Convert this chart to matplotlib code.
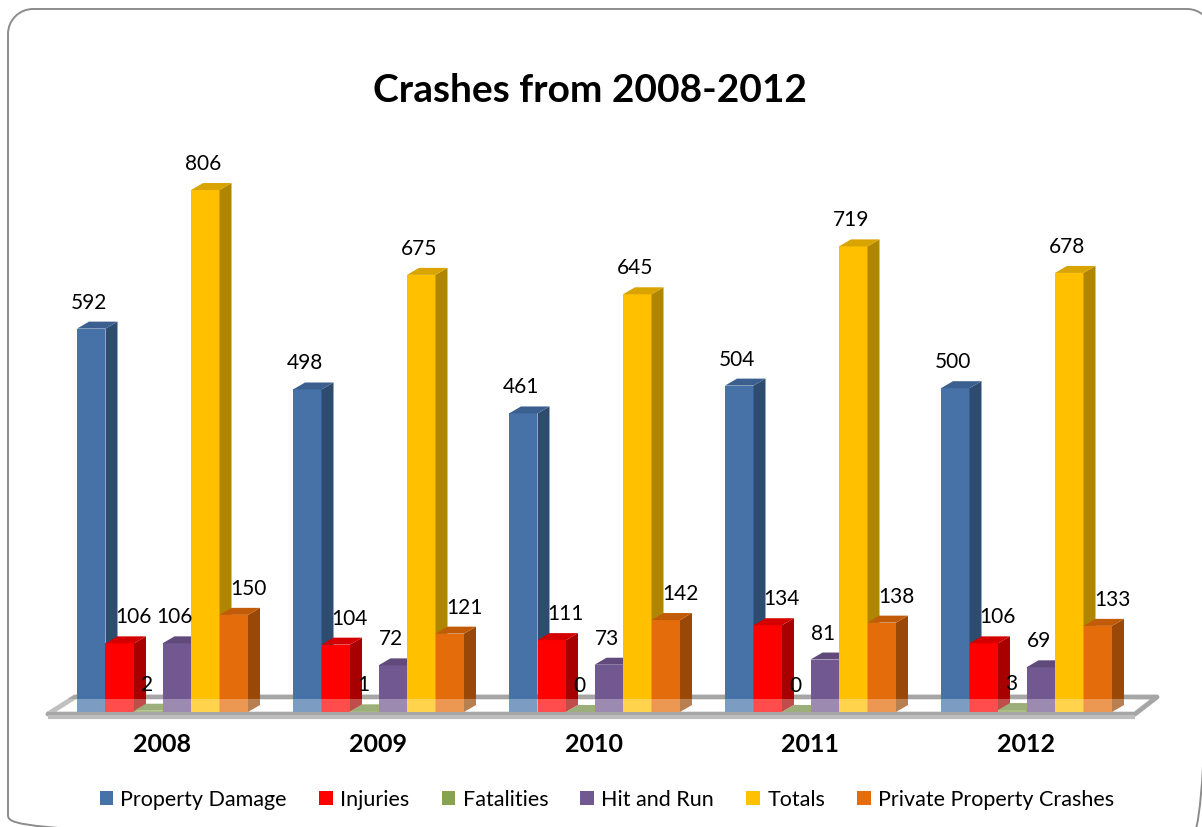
import matplotlib
matplotlib.use("Agg")
import matplotlib.pyplot as plt
from matplotlib.patches import Polygon, Patch, PathPatch
from matplotlib.path import Path
from matplotlib.transforms import Affine2D

# ---- data ----
years = ["2008", "2009", "2010", "2011", "2012"]
series_names = ["Property Damage", "Injuries", "Fatalities", "Hit and Run",
                "Totals", "Private Property Crashes"]
property_damage = [592, 498, 461, 504, 500]
injuries = [106, 104, 111, 134, 106]
fatalities = [2, 1, 0, 0, 3]
hit_and_run = [106, 72, 73, 81, 69]
totals = [806, 675, 645, 719, 678]
private_property = [150, 121, 142, 138, 133]
series_values = [property_damage, injuries, fatalities, hit_and_run,
                 totals, private_property]

# face colours: front, side (shadow), top
front_c = ["#4672A8", "#FF0000", "#87A34D", "#725890", "#FFC000", "#E46C0A"]
side_c = ["#2E4B70", "#A80000", "#5E7434", "#4E3D65", "#B08600", "#9A4807"]
top_c = ["#3B6090", "#D40000", "#728C40", "#5F4A7B", "#D9A300", "#C25B08"]
# horizontal nudge (pixels) of value labels per series
label_nudge = [-2, 14, -1, -2, -2, 15]

plt.rcParams["font.family"] = ["Lato", "DejaVu Sans"]

W, H = 1202, 827
fig = plt.figure(figsize=(W / 100, H / 100), dpi=100)
fig.patch.set_facecolor("white")


def rounded_rect(x0, y0, x1, y1, r):
    """Closed rounded-rectangle path in pixel coords (y grows downward)."""
    k = 0.5523 * r
    verts = [(x0 + r, y0), (x1 - r, y0),
             (x1 - r + k, y0), (x1, y0 + r - k), (x1, y0 + r),
             (x1, y1 - r),
             (x1, y1 - r + k), (x1 - r + k, y1), (x1 - r, y1),
             (x0 + r, y1),
             (x0 + r - k, y1), (x0, y1 - r + k), (x0, y1 - r),
             (x0, y0 + r),
             (x0, y0 + r - k), (x0 + r - k, y0), (x0 + r, y0)]
    codes = ([Path.MOVETO, Path.LINETO] + [Path.CURVE4] * 3 + [Path.LINETO]
             + [Path.CURVE4] * 3 + [Path.LINETO] + [Path.CURVE4] * 3
             + [Path.LINETO] + [Path.CURVE4] * 3)
    return Path(verts, codes)


# rounded chart border (right and bottom edges run past the canvas)
px_trans = Affine2D().scale(0.01, -0.01).translate(0, H / 100) + fig.dpi_scale_trans
border = PathPatch(rounded_rect(8, 9, 1212, 840, 25), facecolor="none",
                   edgecolor="#8C8C8C", linewidth=1.4, transform=px_trans,
                   zorder=0)
fig.add_artist(border)

# axis scaling: one x unit per year group, y in crash counts
PX = 216.0          # pixels per group
PY = 0.6476         # pixels per crash
x_origin = 162.5    # pixel x of first group centre
y_origin = 712.0    # pixel y of zero
ax = fig.add_axes([0, 0, 1, 1])
ax.set_xlim(-x_origin / PX, (W - x_origin) / PX)
ax.set_ylim((y_origin - H) / PY, y_origin / PY)
ax.axis("off")
ax.patch.set_alpha(0)

w = 28.5 / PX        # bar width
dx = 12.0 / PX       # depth offset (x)
dy = 7.0 / PY        # depth offset (y)
n = len(series_names)

# floor
fl_left, fl_right = -114.5 / PX, 972.5 / PX
floor = Polygon([(fl_left, -2 / PY), (fl_right, -2 / PY),
                 (fl_right + 22 / PX, 15 / PY), (fl_left + 27 / PX, 15 / PY)],
                closed=True, facecolor="white", edgecolor="#A6A6A6",
                linewidth=3.5, zorder=1, joinstyle="round")
ax.add_patch(floor)
ax.plot([fl_left, fl_right], [-5 / PY, -5 / PY], color="#BDBDBD", lw=3,
        zorder=1, solid_capstyle="butt")

for j in range(n):
    vals = series_values[j]
    lefts = [i - n * w / 2 + j * w for i in range(len(years))]
    z = 3 + j * 0.5
    ax.bar(lefts, vals, width=w, align="edge", color=front_c[j],
           linewidth=0, zorder=z)
    for l, v in zip(lefts, vals):
        r = l + w
        ax.add_patch(Polygon([(r, 0), (r + dx, dy), (r + dx, v + dy), (r, v)],
                             closed=True, facecolor=side_c[j], lw=0, zorder=z))
        ax.add_patch(Polygon([(l, v), (l + dx, v + dy), (r + dx, v + dy), (r, v)],
                             closed=True, facecolor=top_c[j], lw=0, zorder=z))
        ax.text(l + w / 2 + label_nudge[j] / PX, v + dy + 9 / PY, f"{v}",
                ha="center", va="bottom", fontsize=15, color="black",
                zorder=20)

# translucent front lip of the floor over the bar bottoms
ax.add_patch(Polygon([(fl_left, 0), (fl_right, 0), (fl_right, 13 / PY),
                      (fl_left, 13 / PY)], closed=True, facecolor="white",
                     alpha=0.3, lw=0, zorder=10))

# category labels
for i, yr in enumerate(years):
    ax.text(i, -33 / PY, yr, ha="center", va="center", fontsize=18,
            fontweight="bold", color="black")

# title
fig.text(590 / W, 1 - 91 / H, "Crashes from 2008-2012", ha="center",
         va="center", fontsize=28, fontweight="bold", color="black")

# legend
handles = [Patch(facecolor=front_c[j], edgecolor="none") for j in range(n)]
fig.legend(handles, series_names, loc="center",
           bbox_to_anchor=(607 / W, 1 - 800 / H), ncol=n, frameon=False,
           fontsize=15.5, handlelength=0.62, handleheight=0.62,
           handletextpad=0.35, columnspacing=1.5)

fig.savefig("out.png", dpi=100, facecolor="white")
